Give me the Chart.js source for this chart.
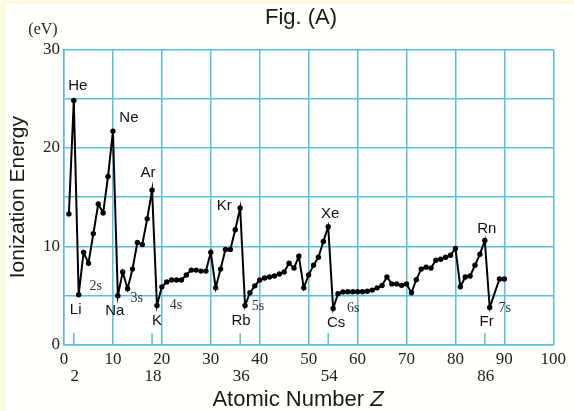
<!DOCTYPE html>
<html><head><meta charset="utf-8">
<script src="https://cdn.jsdelivr.net/npm/chart.js@4.4.1/dist/chart.umd.min.js"></script>
<style>html,body{margin:0;padding:0;background:#fffff6;}#wrap{width:574px;height:411px;position:relative;}</style>
</head><body><div id="wrap"><canvas id="c" width="574" height="411"></canvas></div>
<script>
// ---- data ----
const atomicNumbers = [1,2,3,4,5,6,7,8,9,10,11,12,13,14,15,16,17,18,19,20,21,22,23,24,25,26,27,28,29,30,31,32,33,34,35,36,37,38,39,40,41,42,43,44,45,46,47,48,49,50,51,52,53,54,55,56,57,58,59,60,61,62,63,64,65,66,67,68,69,70,71,72,73,74,75,76,77,78,79,80,81,82,83,84,85,86,87,89,90];
const ionizationEnergies = [13.3,24.8,5.1,9.4,8.3,11.3,14.3,13.4,17.1,21.7,5.0,7.4,5.7,7.7,10.4,10.2,12.8,15.7,4.0,5.9,6.4,6.6,6.6,6.6,7.1,7.6,7.6,7.5,7.5,9.4,5.8,7.7,9.7,9.7,11.7,13.9,4.0,5.3,6.0,6.6,6.8,6.9,7.0,7.2,7.4,8.3,7.8,9.0,5.8,7.1,8.1,8.9,10.5,12.0,3.7,5.2,5.37,5.4,5.4,5.4,5.4,5.45,5.57,5.8,6.04,6.9,6.2,6.2,6.05,6.2,5.3,6.63,7.7,7.9,7.8,8.6,8.7,8.9,9.1,9.8,5.9,6.9,7.0,8.1,9.2,10.6,3.8,6.7,6.7];
const xTickValues = [0,10,20,30,40,50,60,70,80,90,100];
const yTickLabels = [0,10,20,30];
const periodEndZ = [2,18,36,54,86];
const nobleGasZ = [2,10,18,36,54,86];
const nobleGasNames = ['He','Ne','Ar','Kr','Xe','Rn'];
const alkaliZ = [3,11,19,37,55,87];
const alkaliNames = ['Li','Na','K','Rb','Cs','Fr'];
const shellNames = ['2s','3s','4s','5s','6s','7s'];

// ---- styling / label offsets (pixels) ----
const GRID = '#5bc0db';
const nobleOffsets = [[4,-15],[16,-13],[-4,-17],[-16,-2],[2,-13],[2,-12]];
const alkaliOffsets = [[-3,15],[-3,15],[0,15],[-4,15],[3,14],[-3,14]];
const shellOffsets = [[17,-8],[19,3],[19,0],[13,1],[20,0],[15,1]];

const points = atomicNumbers.map((z,i)=>({x:z,y:ionizationEnergies[i]}));

const decor = {
  id:'decor',
  beforeDraw(chart){
    const ctx=chart.ctx;
    ctx.save();
    ctx.fillStyle='#fcfbe2';
    ctx.fillRect(0,0,574,411);
    ctx.fillStyle='#fffffb';
    ctx.fillRect(6,4,568,407);
    const a=chart.chartArea;
    ctx.fillStyle='#ffffff';
    ctx.fillRect(a.left,a.top,a.right-a.left,a.bottom-a.top);
    ctx.restore();
  },
  beforeDatasetsDraw(chart){
    const ctx=chart.ctx, xs=chart.scales.x, a=chart.chartArea;
    ctx.save();
    ctx.strokeStyle=GRID; ctx.lineWidth=1.5;
    periodEndZ.forEach(z=>{
      const px=xs.getPixelForValue(z);
      ctx.beginPath(); ctx.moveTo(px,a.bottom); ctx.lineTo(px,a.bottom-12); ctx.stroke();
    });
    ctx.restore();
  },
  afterDraw(chart){
    const ctx=chart.ctx, xs=chart.scales.x, ys=chart.scales.y;
    ctx.save();
    ctx.textAlign='center'; ctx.textBaseline='middle';
    // title
    ctx.fillStyle='#1a1a1a';
    ctx.font='22px "Liberation Sans", Arial, sans-serif';
    ctx.fillText('Fig. (A)',301,18);
    // unit
    ctx.font='16px "Liberation Serif", "Times New Roman", serif';
    ctx.fillStyle='#222';
    ctx.fillText('(eV)',43,30);
    // second row of x labels
    ctx.font='17px "Liberation Serif", "Times New Roman", serif';
    periodEndZ.forEach(z=>{
      ctx.fillText(String(z), xs.getPixelForValue(z)+1, 377);
    });
    // element labels
    ctx.font='15px "Liberation Sans", Arial, sans-serif';
    ctx.fillStyle='#111';
    nobleGasZ.forEach((z,i)=>{
      const idx=atomicNumbers.indexOf(z);
      const px=xs.getPixelForValue(z), py=ys.getPixelForValue(ionizationEnergies[idx]);
      ctx.fillText(nobleGasNames[i],px+nobleOffsets[i][0],py+nobleOffsets[i][1]);
    });
    alkaliZ.forEach((z,i)=>{
      const idx=atomicNumbers.indexOf(z);
      const px=xs.getPixelForValue(z), py=ys.getPixelForValue(ionizationEnergies[idx]);
      ctx.fillText(alkaliNames[i],px+alkaliOffsets[i][0],py+alkaliOffsets[i][1]);
    });
    ctx.font='14px "Liberation Serif", "Times New Roman", serif';
    ctx.fillStyle='#333';
    alkaliZ.forEach((z,i)=>{
      const idx=atomicNumbers.indexOf(z);
      const px=xs.getPixelForValue(z), py=ys.getPixelForValue(ionizationEnergies[idx]);
      ctx.fillText(shellNames[i],px+shellOffsets[i][0],py+shellOffsets[i][1]);
    });
    // x axis title with italic Z
    ctx.fillStyle='#1a1a1a';
    const f1='22px "Liberation Sans", Arial, sans-serif';
    const f2='italic 22px "Liberation Sans", Arial, sans-serif';
    ctx.font=f1; const w1=ctx.measureText('Atomic Number ').width;
    ctx.font=f2; const w2=ctx.measureText('Z').width;
    const x0=298-(w1+w2)/2;
    ctx.textAlign='left';
    ctx.font=f1; ctx.fillText('Atomic Number ',x0,400);
    ctx.font=f2; ctx.fillText('Z',x0+w1,400);
    ctx.restore();
  }
};

new Chart(document.getElementById('c'),{
  type:'line',
  data:{datasets:[{
    label:'Ionization Energy',
    data:points,
    borderColor:'#000',
    borderWidth:2,
    pointRadius:2.7,
    pointBackgroundColor:'#000',
    pointBorderWidth:0,
    tension:0
  }]},
  options:{
    responsive:false,
    animation:false,
    events:[],
    layout:{padding:{left:0,top:49.3,right:20.7,bottom:0}},
    plugins:{legend:{display:false},tooltip:{enabled:false}},
    scales:{
      x:{
        type:'linear',min:0,max:100,
        afterBuildTicks(s){ s.ticks = xTickValues.map(v=>({value:v})); },
        afterFit(s){ s.height=66; },
        ticks:{autoSkip:false,maxRotation:0,padding:4,color:'#222',
          font:{family:'"Liberation Serif", "Times New Roman", serif',size:17}},
        grid:{color:GRID,lineWidth:1.5,drawTicks:false},
        border:{display:true,color:GRID,width:1.5}
      },
      y:{
        min:0,max:30,
        afterBuildTicks(s){ const t=[]; for(let v=0;v<=30;v+=5) t.push({value:v}); s.ticks=t; },
        afterFit(s){ s.width=64; },
        ticks:{padding:4,color:'#222',
          callback:(v)=> yTickLabels.includes(v) ? String(v) : '',
          font:{family:'"Liberation Serif", "Times New Roman", serif',size:17}},
        grid:{color:GRID,lineWidth:1.5,drawTicks:false},
        border:{display:true,color:GRID,width:1.5},
        title:{display:true,text:'Ionization Energy',color:'#1a1a1a',padding:{top:6,bottom:0},
          font:{family:'"Liberation Sans", Arial, sans-serif',size:21}}
      }
    }
  },
  plugins:[decor]
});
</script></body></html>
